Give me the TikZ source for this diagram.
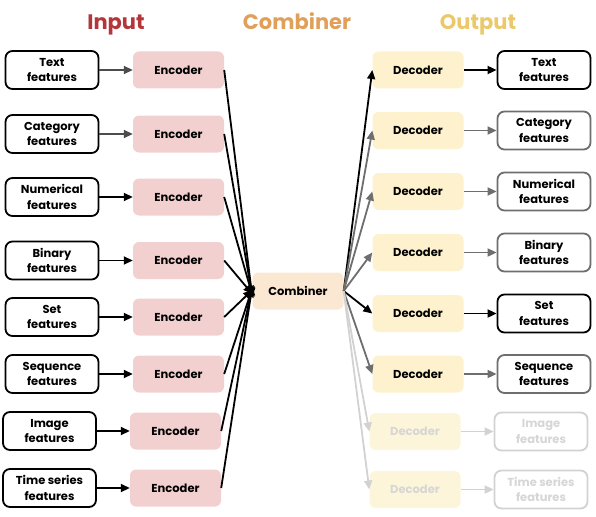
\documentclass[tikz,border=0pt]{standalone}
\usepackage{fontspec}
\setmainfont{Poppins}
\usetikzlibrary{arrows.meta}
\definecolor{inred}{HTML}{B5363A}
\definecolor{combor}{HTML}{E0A05A}
\definecolor{outyel}{HTML}{EBC96A}
\definecolor{encfill}{HTML}{F3D0D0}
\definecolor{combfill}{HTML}{FAE8D3}
\definecolor{decfill}{HTML}{FDF2CD}
\definecolor{decfade}{HTML}{FDF5DA}
\definecolor{midgray}{HTML}{6E6E6E}
\definecolor{fadegray}{HTML}{D2D2D2}
\definecolor{fadetext}{HTML}{D6D6D6}
\tikzset{
  feat/.style={draw=black, line width=1.8pt, rounded corners=7pt, fill=white,
    minimum width=93pt, minimum height=38pt, align=center, inner sep=1pt,
    font=\fontsize{11.5}{15.5}\selectfont\bfseries},
  featgray/.style={feat, draw=midgray},
  featfade/.style={feat, draw=fadegray, text=fadetext},
  enc/.style={fill=encfill, rounded corners=6pt, minimum width=91pt, minimum height=37pt,
    font=\fontsize{11.5}{14}\selectfont\bfseries},
  comb/.style={enc, fill=combfill},
  dec/.style={enc, fill=decfill},
  decf/.style={enc, fill=decfade, text=fadetext},
  ttl/.style={font=\fontsize{21}{24}\selectfont\bfseries, anchor=base, inner sep=0pt},
  arr/.style={line width=1.8pt, -{Triangle[length=9pt,width=8pt]}},
  arrg/.style={arr, draw=midgray, color=midgray},
  arrf/.style={arr, draw=fadegray, color=fadegray},
  arrd/.style={arr, draw=black!70, color=black!70},
}
\begin{document}
\begin{tikzpicture}[x=1pt,y=-1pt]
\useasboundingbox (0,0) rectangle (596,516);
% titles
\node[ttl, text=inred] (tin) at (116,30) {Input};
\node[ttl, text=combor] (tcomb) at (297,30) {Combiner};
\node[ttl, text=outyel] (tout) at (478,30) {Output};
% input features
\node[feat] (i1) at (52,70) {Text\\features};
\node[feat] (i2) at (52,134) {Category\\features};
\node[feat] (i3) at (52,197) {Numerical\\features};
\node[feat] (i4) at (52,260.5) {Binary\\features};
\node[feat] (i5) at (52,317) {Set\\features};
\node[feat] (i6) at (52,374) {Sequence\\features};
\node[feat] (i7) at (49.5,431) {Image\\features};
\node[feat] (i8) at (49.5,488) {Time series\\features};
% encoders
\node[enc] (e1) at (178.5,70) {Encoder};
\node[enc] (e2) at (178.5,134) {Encoder};
\node[enc] (e3) at (178.5,197) {Encoder};
\node[enc] (e4) at (178.5,260.5) {Encoder};
\node[enc] (e5) at (178.5,317) {Encoder};
\node[enc] (e6) at (178.5,374) {Encoder};
\node[enc] (e7) at (175.5,431) {Encoder};
\node[enc] (e8) at (175.5,488) {Encoder};
% combiner
\node[comb] (c) at (298,291) {Combiner};
% decoders
\node[dec] (d1) at (418,70) {Decoder};
\node[dec] (d2) at (418,130.5) {Decoder};
\node[dec] (d3) at (418,191.5) {Decoder};
\node[dec] (d4) at (418,252.5) {Decoder};
\node[dec] (d5) at (418,313.5) {Decoder};
\node[dec] (d6) at (418,374) {Decoder};
\node[decf] (d7) at (415,431.5) {Decoder};
\node[decf] (d8) at (415,489.5) {Decoder};
% output features
\node[feat] (o1) at (544,70) {Text\\features};
\node[featgray] (o2) at (544,130.5) {Category\\features};
\node[featgray] (o3) at (544,191.5) {Numerical\\features};
\node[featgray] (o4) at (544,252.5) {Binary\\features};
\node[feat] (o5) at (544,313.5) {Set\\features};
\node[featgray] (o6) at (544,374) {Sequence\\features};
\node[featfade] (o7) at (541,431.5) {Image\\features};
\node[featfade] (o8) at (541,489.5) {Time series\\features};
% input arrows
\draw[arrd] (i1) -- (e1);
\draw[arrd] (i2) -- (e2);
\foreach \k in {3,...,8} \draw[arr] (i\k) -- (e\k);
% encoder to combiner
\draw[arr] (e1.east) -- ([yshift=-6pt]c.west);
\draw[arr] (e2.east) -- ([yshift=-5pt]c.west);
\draw[arr] (e3.east) -- ([yshift=-4pt]c.west);
\draw[arr] (e4.east) -- ([yshift=-3pt]c.west);
\draw[arr] (e5.east) -- ([yshift=1pt]c.west);
\draw[arr] (e6.east) -- ([yshift=3pt]c.west);
\draw[arr] (e7.east) -- ([yshift=4pt]c.west);
\draw[arr] (e8.east) -- ([yshift=5pt]c.west);
% combiner to decoders
\draw[arr] (c.east) -- (d1.west);
\draw[arrg] (c.east) -- (d2.west);
\draw[arrg] (c.east) -- (d3.west);
\draw[arrg] (c.east) -- (d4.west);
\draw[arr] (c.east) -- (d5.west);
\draw[arrg] (c.east) -- (d6.west);
\draw[arrf] (c.east) -- (d7.west);
\draw[arrf] (c.east) -- (d8.west);
% decoders to outputs
\draw[arr] (d1) -- (o1);
\draw[arrg] (d2) -- (o2);
\draw[arrg] (d3) -- (o3);
\draw[arrg] (d4) -- (o4);
\draw[arr] (d5) -- (o5);
\draw[arrg] (d6) -- (o6);
\draw[arrf] (d7) -- (o7);
\draw[arrf] (d8) -- (o8);
\end{tikzpicture}
\end{document}
